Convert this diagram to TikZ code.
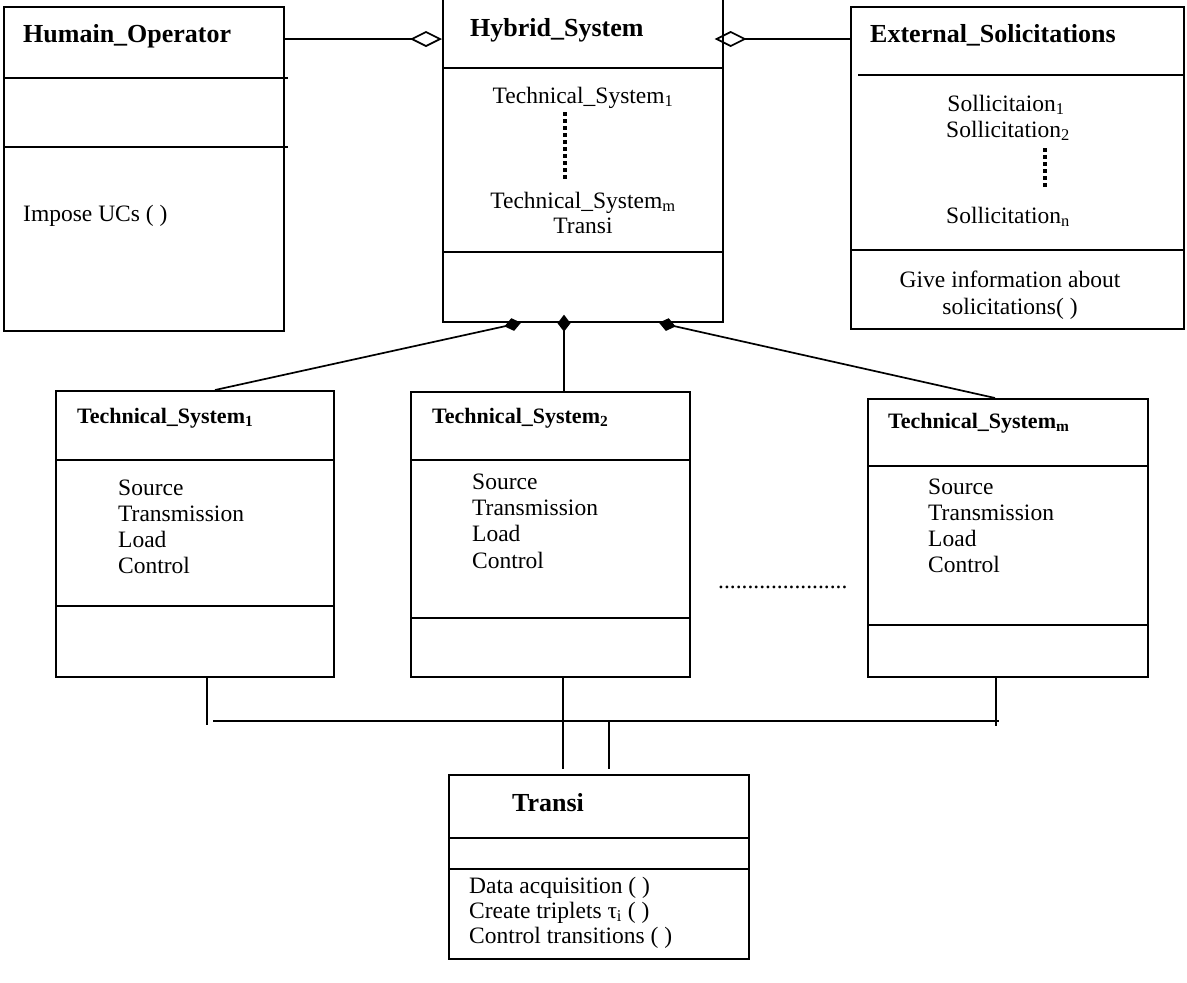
\documentclass[tikz,border=0pt]{standalone}
\usepackage{fontspec}
\setmainfont{Liberation Serif}
\usetikzlibrary{arrows.meta,calc}
\begin{document}
\begin{tikzpicture}[x=1pt,y=-1pt,
 box/.style={draw,line width=1.7pt,anchor=north west,inner sep=0pt},
 div/.style={line width=1.7pt},
 ttl/.style={anchor=base west,inner sep=0pt,font=\fontsize{26}{28}\selectfont\bfseries},
 tts/.style={anchor=base west,inner sep=0pt,font=\fontsize{22}{24}\selectfont\bfseries},
 txt/.style={anchor=base west,inner sep=0pt,font=\fontsize{23.5}{26}\selectfont},
 ctxt/.style={anchor=base,inner sep=0pt,font=\fontsize{23.5}{26}\selectfont},
 vdots/.style={line width=4pt,dash pattern=on 3.5pt off 3.5pt},
 agg/.style={line width=1.7pt,-{Diamond[open,length=32pt,width=16pt,line width=1.7pt]}},
 comp/.style={line width=1.7pt,-{Diamond[length=17pt,width=13pt]}},
 wire/.style={line width=1.7pt}]
\useasboundingbox (0,0) rectangle (1187,983);

% ---------- Humain_Operator ----------
\node[box,minimum width=280,minimum height=324] (ho) at (3,6) {};
\draw[div] (5,78) -- (288,78);
\draw[div] (5,147) -- (288,147);
\node[ttl] (hot) at (23,42) {Humain\_Operator};
\node[txt] (hom) at (23,221) {Impose UCs ( )};

% ---------- Hybrid_System ----------
\node[box,minimum width=280,minimum height=324] (hs) at (442,-3) {};
\draw[div] (442,68) -- (722,68);
\draw[div] (442,252) -- (722,252);
\node[ttl] (hst) at (470,36) {Hybrid\_System};
\node[ctxt] (hs1) at (583,103) {Technical\_System\textsubscript{1}};
\draw[vdots] (565,112) -- (565,180);
\node[ctxt] (hsm) at (583,208) {Technical\_System\textsubscript{m}};
\node[ctxt] (hstr) at (583,233) {Transi};

% ---------- External_Solicitations ----------
\node[box,minimum width=333,minimum height=322] (es) at (850,6) {};
\draw[div] (858,75) -- (1185,75);
\draw[div] (852,250) -- (1183,250);
\node[ttl] (est) at (870,42) {External\_Solicitations};
\node[ctxt] (es1) at (1006,111) {Sollicitaion\textsubscript{1}};
\node[ctxt] (es2) at (1008,137) {Sollicitation\textsubscript{2}};
\draw[vdots] (1045,148) -- (1045,190);
\node[ctxt] (esn) at (1008,223) {Sollicitation\textsubscript{n}};
\node[ctxt] (esg) at (1010,287) {Give information about};
\node[ctxt] (ess) at (1010,314) {solicitations( )};

% ---------- Technical systems ----------
\node[box,minimum width=278,minimum height=286] (ts1) at (55,390) {};
\draw[div] (55,460) -- (333,460);
\draw[div] (55,606) -- (333,606);
\node[tts] (ts1t) at (77,423) {Technical\_System\textsubscript{1}};
\node[txt] (ts1a) at (118,495) {Source};
\node[txt] (ts1b) at (118,521) {Transmission};
\node[txt] (ts1c) at (118,547) {Load};
\node[txt] (ts1d) at (118,573) {Control};

\node[box,minimum width=279,minimum height=285] (ts2) at (410,391) {};
\draw[div] (410,460) -- (689,460);
\draw[div] (410,618) -- (689,618);
\node[tts] (ts2t) at (432,423) {Technical\_System\textsubscript{2}};
\node[txt] (ts2a) at (472,489) {Source};
\node[txt] (ts2b) at (472,515) {Transmission};
\node[txt] (ts2c) at (472,541) {Load};
\node[txt] (ts2d) at (472,568) {Control};

\node[box,minimum width=280,minimum height=278] (tsm) at (867,398) {};
\draw[div] (867,466) -- (1147,466);
\draw[div] (867,625) -- (1147,625);
\node[tts] (tsmt) at (888,428) {Technical\_System\textsubscript{m}};
\node[txt] (tsma) at (928,494) {Source};
\node[txt] (tsmb) at (928,520) {Transmission};
\node[txt] (tsmc) at (928,546) {Load};
\node[txt] (tsmd) at (928,572) {Control};

\node[txt] (ell) at (718,588) {......................};

% ---------- Transi ----------
\node[box,minimum width=300,minimum height=184] (tr) at (448,774) {};
\draw[div] (448,838) -- (748,838);
\draw[div] (448,869) -- (748,869);
\node[ttl] (trt) at (512,811) {Transi};
\node[txt] (tr1) at (469,893) {Data acquisition ( )};
\node[txt] (tr2) at (469,918) {Create triplets τ\textsubscript{i} ( )};
\node[txt] (tr3) at (469,943) {Control transitions ( )};

% ---------- aggregation connectors ----------
\draw[agg] ([yshift=-33pt]ho.north east) -- ([yshift=-42pt]hs.north west);
\draw[agg] ([yshift=-33pt]es.north west) -- ([xshift=-9pt,yshift=-42pt]hs.north east);

% ---------- composition connectors ----------
\draw[comp] ($(ts1.north west)+(160,0)$) -- ($(hs.south west)+(79,0)$);
\draw[comp] ($(ts2.north west)+(154,0)$) -- ($(hs.south west)+(122,-8)$);
\draw[comp] ($(tsm.north west)+(128,0)$) -- ($(hs.south west)+(217,0)$);

% ---------- bus to Transi ----------
\coordinate (bl) at (213,721);
\coordinate (br) at (999,721);
\draw[wire] (bl) -- (br);
\draw[wire] ($(ts1.south west)+(152,0)$) -- ++(0,47);
\draw[wire] ($(tsm.south west)+(129,0)$) -- ++(0,48);
\draw[wire] ($(ts2.south west)+(153,0)$) -- ($(tr.north west)+(115,-5)$);
\draw[wire] ($(bl)+(396,0)$) -- ($(tr.north west)+(161,-5)$);
\end{tikzpicture}
\end{document}
